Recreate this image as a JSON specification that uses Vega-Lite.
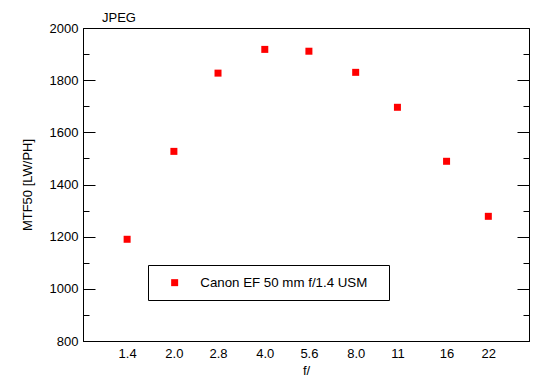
{
  "$schema": "https://vega.github.io/schema/vega-lite/v6.json",
  "width": 446,
  "height": 313,
  "autosize": {"type": "none"},
  "padding": {"left": 83, "top": 28, "right": 21, "bottom": 48},
  "background": "white",
  "config": {
    "font": "Liberation Sans",
    "view": {"stroke": "black", "strokeWidth": 1},
    "axis": {"labelFont": "Liberation Sans", "titleFont": "Liberation Sans", "labelFontSize": 13, "titleFontSize": 13, "labelColor": "black", "titleColor": "black", "domainColor": "black", "tickColor": "black", "titleFontWeight": "normal", "grid": false}
  },
  "title": {"text": "JPEG", "anchor": "start", "frame": "group", "dx": 19, "offset": 5, "dy": 8, "fontSize": 13, "fontWeight": "normal", "font": "Liberation Sans", "color": "black"},
  "data": {"values": [
    {"f": 1.4, "mtf": 1190, "lens": "Canon EF 50 mm f/1.4 USM"},
    {"f": 2.0, "mtf": 1527, "lens": "Canon EF 50 mm f/1.4 USM"},
    {"f": 2.8, "mtf": 1827, "lens": "Canon EF 50 mm f/1.4 USM"},
    {"f": 4.0, "mtf": 1918, "lens": "Canon EF 50 mm f/1.4 USM"},
    {"f": 5.6, "mtf": 1911, "lens": "Canon EF 50 mm f/1.4 USM"},
    {"f": 8.0, "mtf": 1830, "lens": "Canon EF 50 mm f/1.4 USM"},
    {"f": 11, "mtf": 1696, "lens": "Canon EF 50 mm f/1.4 USM"},
    {"f": 16, "mtf": 1489, "lens": "Canon EF 50 mm f/1.4 USM"},
    {"f": 22, "mtf": 1278, "lens": "Canon EF 50 mm f/1.4 USM"}
  ]},
  "layer": [
    {
      "mark": {"type": "square", "size": 49, "opacity": 1},
      "encoding": {
        "x": {"field": "f", "type": "quantitative", "scale": {"type": "log", "domain": [1, 30], "nice": false, "zero": false},
          "axis": {"title": "f/", "values": [1.4, 2, 2.8, 4, 5.6, 8, 11, 16, 22], "ticks": false, "labelPadding": 6, "titlePadding": 4,
            "labelExpr": "datum.value < 10 ? format(datum.value, '.1f') : format(datum.value, 'd')", "labelFlush": false, "labelOverlap": false}},
        "y": {"field": "mtf", "type": "quantitative", "scale": {"domain": [800, 2000], "nice": false, "zero": false},
          "axis": {"title": "MTF50 [LW/PH]", "orient": "left", "values": [800, 900, 1000, 1100, 1200, 1300, 1400, 1500, 1600, 1700, 1800, 1900, 2000],
            "labelExpr": "datum.value % 200 === 0 ? datum.label : ''", "format": "d",
            "tickSize": {"condition": {"test": "datum.value % 200 === 0", "value": -12}, "value": -6},
            "labelPadding": 17, "titlePadding": 15, "labelFlush": false, "labelOverlap": false}},
        "color": {"field": "lens", "type": "nominal", "scale": {"range": ["#ff0000"]},
          "legend": {"orient": "none", "legendX": 65, "legendY": 237, "title": null, "strokeColor": "black", "fillColor": "white",
            "padding": 11, "symbolType": "square", "symbolSize": 49, "symbolOpacity": 1, "symbolOffset": 9, "labelOffset": 19,
            "labelFontSize": 13.3, "labelFont": "Liberation Sans", "labelColor": "black",
            "labelExpr": "datum.label + '\u2800'", "labelLimit": 400}}
      }
    },
    {
      "mark": {"type": "point", "opacity": 0},
      "encoding": {
        "x": {"field": "f", "type": "quantitative", "scale": {"type": "log", "domain": [1, 30], "nice": false, "zero": false}},
        "y": {"field": "mtf", "type": "quantitative", "scale": {"domain": [800, 2000], "nice": false, "zero": false},
          "axis": {"title": null, "orient": "right", "labels": false, "values": [800, 900, 1000, 1100, 1200, 1300, 1400, 1500, 1600, 1700, 1800, 1900, 2000],
            "tickSize": {"condition": {"test": "datum.value % 200 === 0", "value": -12}, "value": -6}}}
      }
    }
  ],
  "resolve": {"axis": {"y": "independent"}}
}
